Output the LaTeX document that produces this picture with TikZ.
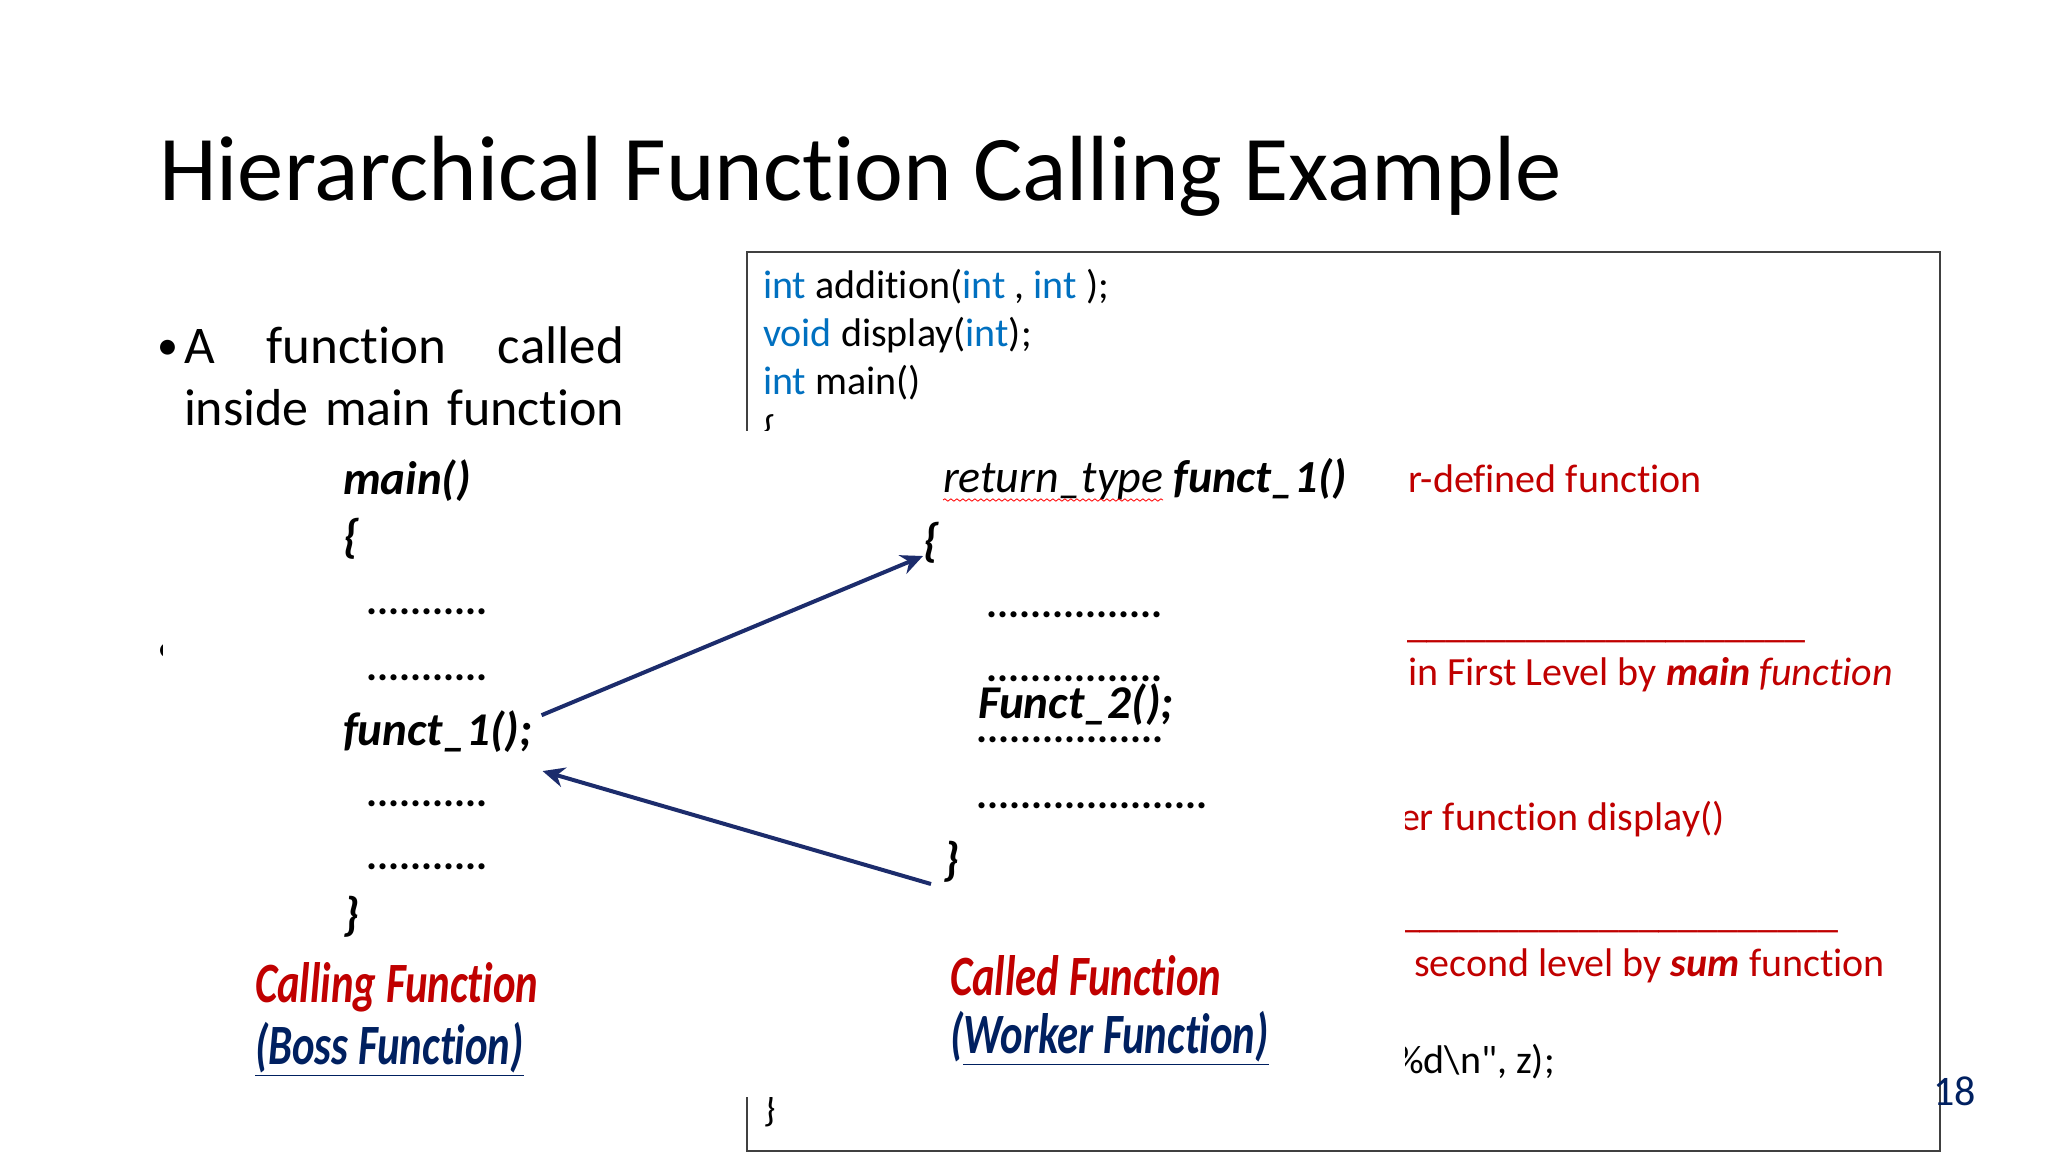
\documentclass[tikz,border=0pt]{standalone}
\usepackage{fontspec}
\setmainfont{Carlito}[Ligatures={NoCommon}]
\newfontfamily\labfont{Carlito}[FakeStretch=0.75,Ligatures={NoCommon}]
\usepackage{xcolor}
\usepackage{tikz}
\usetikzlibrary{arrows.meta,positioning,decorations.pathmorphing}
\definecolor{redc}{HTML}{C00000}
\definecolor{keyc}{HTML}{0070C0}
\definecolor{navyc}{HTML}{002060}
\definecolor{arrc}{HTML}{1C2C6C}
\definecolor{framec}{HTML}{404040}
\tikzset{
  txt/.style={anchor=base west,inner sep=0pt,outer sep=0pt},
  codeln/.style={txt,font=\fontsize{20}{24}\selectfont},
  cmt/.style={codeln,text=redc},
  dia/.style={txt,font=\fontsize{23.5}{28}\selectfont\bfseries\itshape},
  dotrow/.style={txt,font=\fontsize{20.6}{25}\selectfont\bfseries},
  lab/.style={txt,font=\labfont\fontsize{28.5}{34}\selectfont\bfseries\itshape},
  callar/.style={-{Stealth[length=11pt,width=10pt]},line width=2pt,arrc}
}
\newcommand{\kw}[1]{\textcolor{keyc}{#1}}

\begin{document}
\begin{tikzpicture}[x=0.5pt,y=-0.5pt]
\useasboundingbox (0,0) rectangle (2048,1152);
\fill[white] (0,0) rectangle (2048,1152);
% slide behind the picture
\node[txt,font=\fontsize{46.3}{55}\selectfont] (title) at (159,200) {Hierarchical Function Calling Example};
\node[txt,font=\fontsize{21}{25}\selectfont] (bulA) at (157,359) {•};
\node[txt,font=\fontsize{26.5}{31}\selectfont] (lineA) at (184,363) {\makebox[220pt][s]{A function called}};
\node[txt,font=\fontsize{26}{31}\selectfont] (lineB) at (184,425) {\makebox[220pt][s]{inside main function}};
\node[txt,font=\fontsize{21}{25}\selectfont] (bulB) at (157,662) {•};
\draw[framec,line width=0.75pt] (747,252) rectangle (1940,1151);
\node[codeln] (cl1) at (763,298) {\kw{int} addition(\kw{int} , \kw{int} );};
\node[codeln] (cl2) at (763,346.4) {\kw{void} display(\kw{int});};
\node[codeln] (cl3) at (763,394.8) {\kw{int} main()};
\node[codeln] (cl4) at (763,443.2) {\{};
\node[cmt] (cm1) at (1408,492) {r-defined function};
\node[cmt] (cu1) at (1407,637) {\_\_\_\_\_\_\_\_\_\_\_\_\_\_\_\_\_\_\_\_};
\node[cmt] (cm2) at (1408,685) {in First Level by \textbf{\textit{main}} \textit{function}};
\node[cmt] (cm3) at (1400,830) {er function display()};
\node[cmt] (cu2) at (1400,927) {\_\_\_\_\_\_\_\_\_\_\_\_\_\_\_\_\_\_\_\_\_\_};
\node[cmt] (cm4) at (1414,976) {second level by \textbf{\textit{sum}} function};
\node[codeln] (cl5) at (1395,1073) {\%d\textbackslash n\textquotedbl, z);};
\node[codeln] (cl6) at (763,1121) {\}};
\node[txt,font=\fontsize{21}{25}\selectfont,text=navyc] (pg) at (1933,1105) {18};
% pasted picture
\fill[white] (163,431) rectangle (1405,1097);
\node[dia] (mhead) at (343,494) {main()};
\node[dia] (mopen) at (343,552) {\{};
\node[dotrow] (md1) at (366,614) {...........};
\node[dotrow] (md2) at (366,680) {...........};
\node[dia] (mcall) at (343,745) {funct\_1();};
\node[dotrow] (md3) at (366,806) {...........};
\node[dotrow] (md4) at (366,869) {...........};
\node[dia] (mclose) at (343,930) {\}};
\node[lab,text=redc] (calling) at (255,1002) {Calling Function};
\node[lab,text=navyc] (boss) at (255,1064) {\underline{(Boss Function)}};
\node[dia,font=\fontsize{23}{28}\selectfont\bfseries\itshape] (fhead) at (943,492) {\textmd{return\_type} funct\_1()};
\draw[red,line width=0.4pt,decorate,decoration={snake,amplitude=0.6pt,segment length=3pt}] ([yshift=-4pt]fhead.base west) -- ++(220,0);
\node[dia] (fopen) at (923,556) {\{};
\node[dotrow] (fd1) at (986,617) {................};
\node[dotrow] (fd2) at (986,681) {................};
\node[dia] (fcall) at (978,718) {Funct\_2();};
\node[dotrow] (fd3) at (976,742) {.................};
\node[dotrow] (fd4) at (976,808) {.....................};
\node[dia] (fclose) at (943,875) {\}};
\node[lab,text=redc] (called) at (950,995) {Called Function};
\node[lab,text=navyc] (worker) at (950,1053) {(\underline{Worker Function)}};
% call and return
\draw[callar] ([xshift=4.5pt,yshift=-2.5pt]mcall.north east) -- (fopen.base west);
\draw[callar] ([xshift=-6pt,yshift=-4.5pt]fclose.base west) -- ([xshift=5pt,yshift=-9.5pt]mcall.south east);
\end{tikzpicture}
\end{document}
